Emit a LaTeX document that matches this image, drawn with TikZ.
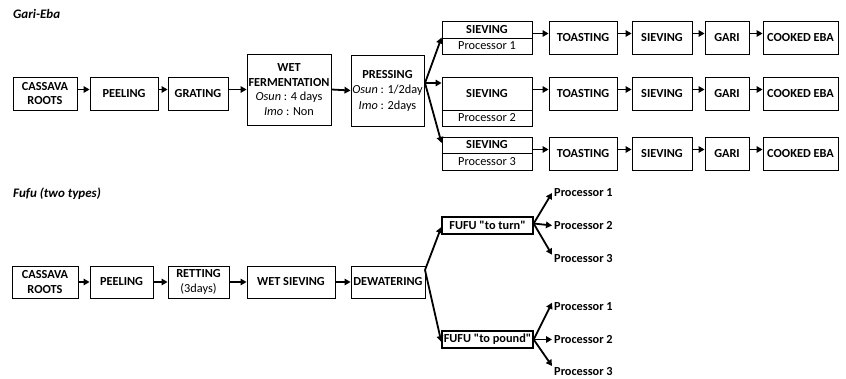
\documentclass[tikz,border=0pt]{standalone}
\usepackage{fontspec}
\setmainfont{Carlito}[Ligatures=TeXOff]
\usetikzlibrary{arrows.meta}
\begin{document}
\begin{tikzpicture}[x=1pt,y=-1pt,
 sz/.style 2 args={minimum width=#1pt,minimum height=#2pt},
 box/.style={draw,line width=0.9pt,inner sep=0pt,align=center,font=\fontsize{12.3}{14.5}\selectfont\bfseries,anchor=center},
 sub/.style={box,font=\fontsize{12.3}{14.5}\selectfont},
 arr/.style={line width=1.8pt,-{Triangle[length=6pt,width=6.5pt]}},
 lab/.style={font=\fontsize{12.3}{14.5}\selectfont\bfseries,anchor=west,inner xsep=2pt,inner ysep=0pt},
 ttl/.style={font=\fontsize{13}{15}\selectfont\bfseries\itshape,anchor=west,inner sep=0pt}]
\useasboundingbox (0,0) rectangle (846,379);

% ---------- Gari-Eba ----------
\node[ttl] (t1) at (13,14) {Gari-Eba};
\node[box,sz={64}{33}] (cr1) at (45,93.5) {CASSAVA\\ROOTS};
\node[box,sz={68}{33}] (pe1) at (124,93.5) {PEELING};
\node[box,sz={60}{33}] (gr1) at (198,93.5) {GRATING};
\node[box,sz={84}{71},font=\fontsize{12.3}{14.5}\selectfont] (wf) at (289,89.5) {\textbf{WET}\\\textbf{FERMENTATION}\\\textit{Osun} : 4 days\\\textit{Imo} : Non};
\node[box,sz={73}{71},font=\fontsize{12.3}{15.5}\selectfont] (pr) at (387.5,90.5) {\textbf{PRESSING}\\\textit{Osun} : 1/2day\\\textit{Imo} : 2days};

\draw[arr] ([yshift=4pt]cr1.east) -- ([yshift=4pt]pe1.west);
\draw[arr] ([yshift=4pt]pe1.east) -- ([yshift=4pt]gr1.west);
\draw[arr] ([yshift=4pt]gr1.east) -- ([yshift=4pt]wf.west |- gr1.east);
\draw[arr] (wf.east) -- (pr.west);

% sieving boxes
\node[box,sz={90}{17}] (s1a) at (487,29.5) {SIEVING};
\node[sub,sz={90}{16}] (s1b) at (487,46) {Processor 1};
\node[box,sz={90}{33}] (s2a) at (487,93.5) {SIEVING};
\node[sub,sz={90}{16}] (s2b) at (487,118) {Processor 2};
\node[box,sz={90}{16}] (s3a) at (487,145) {SIEVING};
\node[sub,sz={90}{17}] (s3b) at (487,161.5) {Processor 3};

\coordinate (f1) at (425,83);
\draw[arr] (f1) -- (s1b.north west);
\draw[arr] (f1) -- (s2a.west |- f1);
\draw[arr] (f1) -- ([yshift=2pt]s3a.west);

% rows
\foreach \r/\y in {1/37.5, 2/93.5, 3/153.5}{
  \node[box,sz={68}{33}] (to\r) at (583,\y) {TOASTING};
  \node[box,sz={60}{33}] (sv\r) at (662,\y) {SIEVING};
  \node[box,sz={44}{33}] (ga\r) at (727,\y) {GARI};
  \node[box,sz={75}{33}] (eb\r) at (800.5,\y) {COOKED EBA};
  \draw[arr] ([yshift=4pt]to\r.west -| s1a.east) -- ([yshift=4pt]to\r.west);
  \draw[arr] ([yshift=4pt]to\r.east) -- ([yshift=4pt]sv\r.west);
  \draw[arr] ([yshift=4pt]sv\r.east) -- ([yshift=4pt]ga\r.west);
  \draw[arr] ([yshift=4pt]ga\r.east) -- ([yshift=4pt]eb\r.west);
}

% ---------- Fufu ----------
\node[ttl] (t2) at (13,194) {Fufu (two types)};
\node[box,sz={66}{32}] (cr2) at (45,282) {CASSAVA\\ROOTS};
\node[box,sz={63}{32}] (pe2) at (121.5,282) {PEELING};
\node[box,sz={61}{32}] (re) at (198.5,282) {RETTING\\\mdseries(3days)};
\node[box,sz={88}{32}] (ws) at (291,282) {WET SIEVING};
\node[box,sz={74}{32}] (dw) at (388,282) {DEWATERING};
\draw[arr] (cr2) -- (pe2);
\draw[arr] (pe2) -- (re);
\draw[arr] (re) -- (ws);
\draw[arr] (ws) -- (dw);

\node[box,sz={91}{17},line width=1.3pt] (ft) at (487.5,225.5) {FUFU "to turn"};
\node[box,sz={91}{17},line width=1.3pt] (fp) at (487.5,339.5) {FUFU "to pound"};
\coordinate (f2) at (425,270);
\draw[arr] (f2) -- ([yshift=-1.5pt]ft.west);
\draw[arr] (f2) -- ([yshift=-2.5pt]fp.west);

\node[lab] (a1) at (552,193) {Processor 1};
\node[lab] (a2) at (552,226) {Processor 2};
\node[lab] (a3) at (552,259) {Processor 3};
\node[lab] (b1) at (552,307) {Processor 1};
\node[lab] (b2) at (552,340) {Processor 2};
\node[lab] (b3) at (552,372) {Processor 3};
\draw[arr] ([yshift=2pt]ft.east) -- (a1.west);
\draw[arr] ([yshift=2pt]ft.east) -- (a2.west |- ft.east);
\draw[arr] ([yshift=2pt]ft.east) -- (a3.north west);
\draw[arr] (fp.east) -- (b1.north west);
\draw[arr] (fp.east) -- (b2.west |- fp.east);
\draw[arr] (fp.east) -- ([yshift=6pt]b3.west);
\end{tikzpicture}
\end{document}
